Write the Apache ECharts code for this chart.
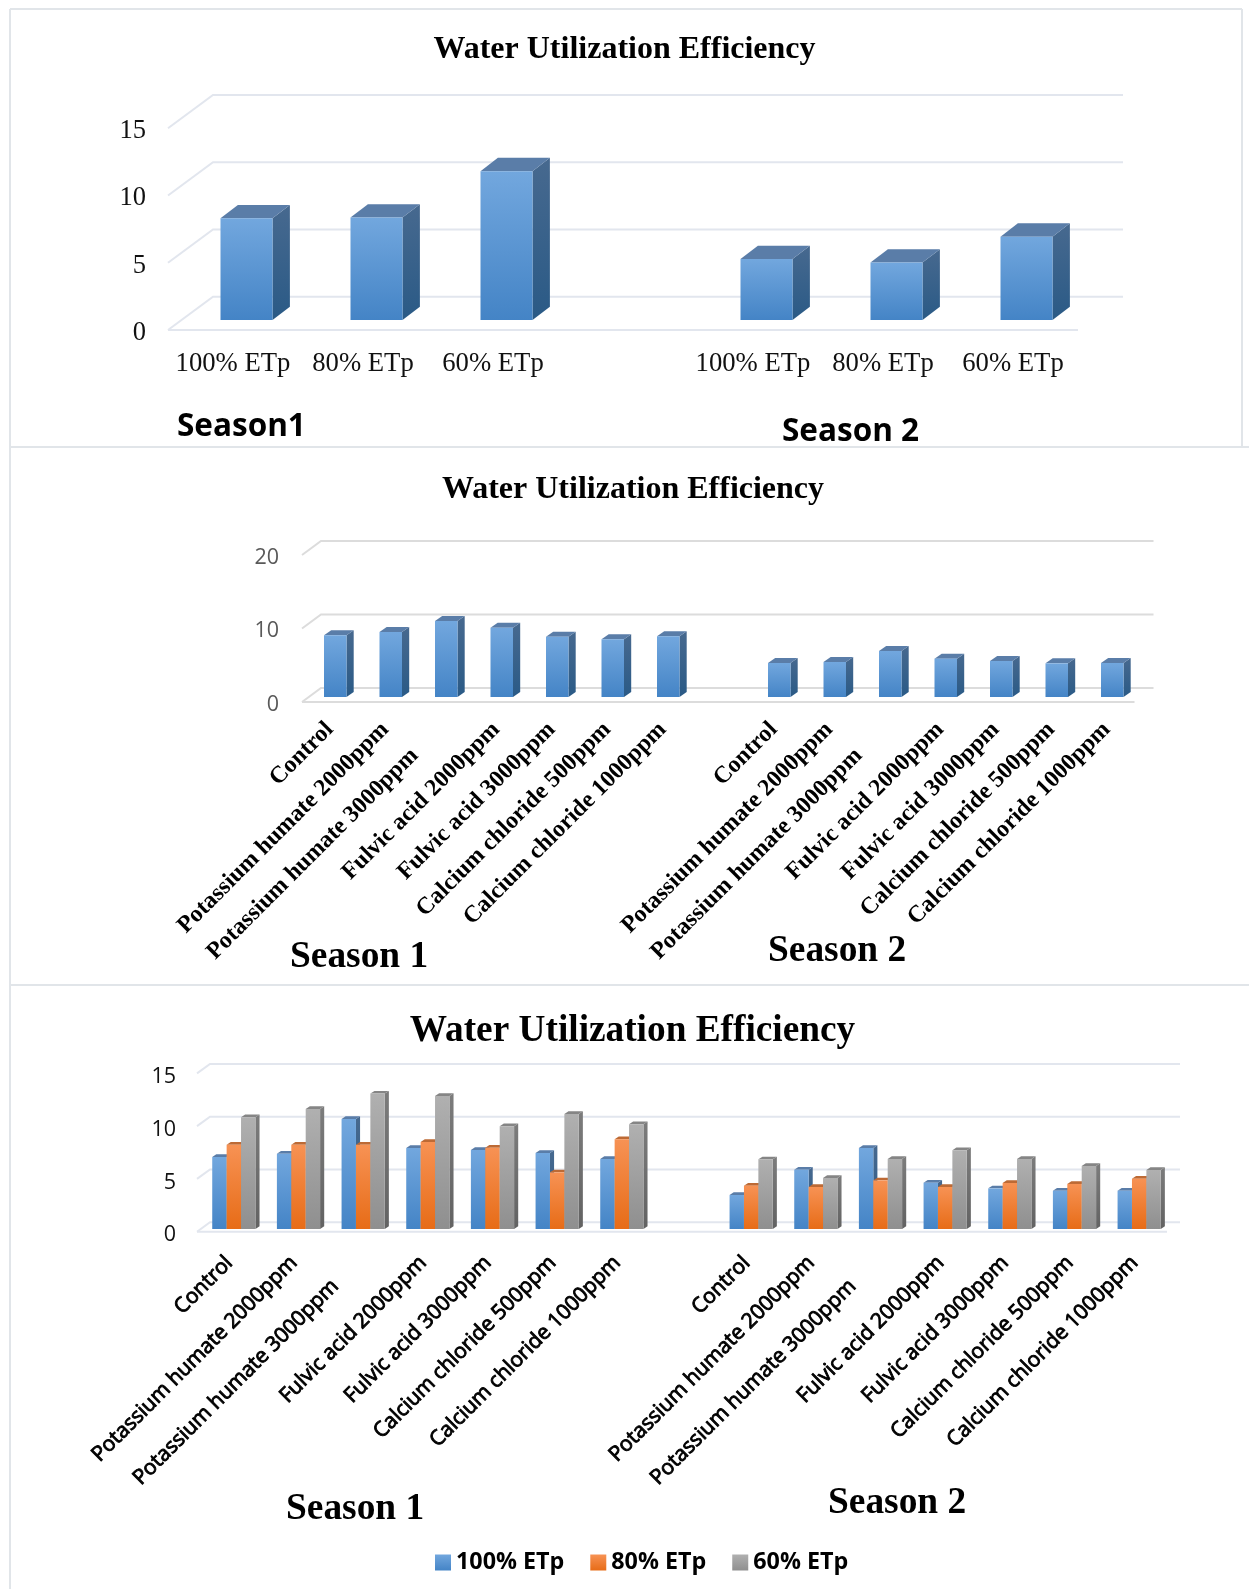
<!DOCTYPE html>
<html>
<head>
<meta charset="utf-8">
<title>Water Utilization Efficiency</title>
<style>html,body{margin:0;padding:0;background:#fff}#chart{width:1249px;height:1589px}</style>
<script src="https://cdn.jsdelivr.net/npm/echarts@6/dist/echarts.min.js"></script>
</head>
<body>
<div id="chart"></div>
<script>
// Irrigation level main effect
const irrigationLevels = ['100% ETp', '80% ETp', '60% ETp'];
const irrigationS1 = [7.57, 7.62, 11.07];
const irrigationS2 = [4.54, 4.27, 6.2];

// Foliar treatment main effect
const treatments = ['Control', 'Potassium humate 2000ppm', 'Potassium humate 3000ppm', 'Fulvic acid 2000ppm',
  'Fulvic acid 3000ppm', 'Calcium chloride 500ppm', 'Calcium chloride 1000ppm'];
const treatmentS1 = [8.39, 8.84, 10.34, 9.43, 8.2, 7.85, 8.25];
const treatmentS2 = [4.63, 4.76, 6.26, 5.22, 4.9, 4.58, 4.63];

// Irrigation x treatment interaction
const etp100S1 = [6.82, 7.14, 10.43, 7.68, 7.49, 7.2, 6.64];
const etp80S1 = [7.99, 7.99, 7.99, 8.25, 7.71, 5.37, 8.5];
const etp60S1 = [10.6, 11.37, 12.83, 12.6, 9.73, 10.9, 9.92];
const etp100S2 = [3.22, 5.62, 7.68, 4.39, 3.85, 3.63, 3.63];
const etp80S2 = [4.11, 3.98, 4.61, 3.98, 4.36, 4.27, 4.77];
const etp60S2 = [6.6, 4.83, 6.64, 7.46, 6.64, 5.97, 5.59];

const ticksA = [0, 5, 10, 15];
const ticksB = [0, 10, 20];
const ticksC = [0, 5, 10, 15];

const chartTitle = 'Water Utilization Efficiency';
const SERIF = '"Liberation Serif", serif';
const SANS = '"Open Sans", sans-serif';

const vGrad = (a, b) => ({ type: 'linear', x: 0, y: 0, x2: 0, y2: 1, colorStops: [{ offset: 0, color: a }, { offset: 1, color: b }] });
const PALETTE = {
  blue: { front: vGrad('#72a7de', '#4484c6'), side: vGrad('#47698f', '#2a5a86'), top: '#5a7da8' },
  orange: { front: vGrad('#f79254', '#e76c17'), side: vGrad('#b8683a', '#a8500f'), top: '#bd6a35' },
  gray: { front: vGrad('#b0b0b0', '#8f8f8f'), side: vGrad('#7c7c7c', '#626262'), top: '#858585' }
};

// Three-dimensional scene of each panel: the wall depth and where bars stand inside it.
const SCENE = [
  { dx: 45, dy: 33.3, line: '#e2e6ee', offX: 13.5, offY: 10, sideX: 17.4, sideY: 13.3, barWidth: 52 },
  { dx: 19, dy: 14, line: '#dcdcdc', offX: 5.5, offY: 5, sideX: 7.2, sideY: 5, barWidth: 22.5 },
  { dx: 13, dy: 9.4, line: '#e2e6ee', offX: 4.5, offY: 2.7, sideX: 4.1, sideY: 2.7, barWidth: 14.4 }
];

function wallSeries(panel, ticks) {
  const s = SCENE[panel];
  return {
    type: 'custom', xAxisIndex: panel, yAxisIndex: panel, silent: true, clip: false, z: 1,
    data: ticks.map(t => [0, t]),
    encode: { x: 0, y: 1 },
    renderItem(params, api) {
      const box = params.coordSys;
      const y = api.coord([0, api.value(1)])[1];
      const style = { stroke: s.line, lineWidth: 2, fill: null };
      const children = [{
        type: 'polyline',
        shape: { points: [[box.x, y], [box.x + s.dx, y - s.dy], [box.x + box.width + s.dx, y - s.dy]] },
        style
      }];
      if (api.value(1) === 0) {
        children.push({ type: 'line', shape: { x1: box.x, y1: y, x2: box.x + box.width, y2: y }, style });
      }
      return { type: 'group', children };
    }
  };
}

function barSeries(panel, name, values, colors, slotShift) {
  const s = SCENE[panel];
  return {
    type: 'custom', name, xAxisIndex: panel, yAxisIndex: panel, clip: false, z: 3,
    itemStyle: { color: colors.front },
    data: values.map((v, i) => [i, v]).filter(d => d[1] !== null),
    encode: { x: 0, y: 1 },
    renderItem(params, api) {
      const base = api.coord([api.value(0), 0]);
      const top = api.coord([api.value(0), api.value(1)]);
      const x0 = base[0] + s.offX + slotShift * s.barWidth - s.barWidth / 2;
      const x1 = x0 + s.barWidth;
      const y0 = base[1] - s.offY;
      const y1 = top[1] - s.offY;
      return {
        type: 'group',
        children: [
          { type: 'polygon', shape: { points: [[x1, y1], [x1 + s.sideX, y1 - s.sideY], [x1 + s.sideX, y0 - s.sideY], [x1, y0]] }, style: { fill: colors.side } },
          { type: 'polygon', shape: { points: [[x0, y1], [x0 + s.sideX, y1 - s.sideY], [x1 + s.sideX, y1 - s.sideY], [x1, y1]] }, style: { fill: colors.top } },
          { type: 'rect', shape: { x: x0, y: y1, width: s.barWidth, height: y0 - y1 }, style: { fill: colors.front } }
        ]
      };
    }
  };
}

// Season 1, an empty slot, then season 2 on one category axis.
const withGap = (a, b, blank) => a.concat([blank], b);

// Slanted category label; the third treatment sits further back along its slant.
function slantedAxis(gridIndex, labelStyle, extraPad, margin) {
  const plain = { ...labelStyle };
  const pushed = { ...labelStyle, padding: [0, extraPad, 0, 0] };
  return {
    type: 'category', gridIndex, data: withGap(treatments, treatments, ''),
    axisLine: { show: false }, axisTick: { show: false },
    axisLabel: {
      interval: 0, rotate: 45, margin, hideOverlap: false,
      rich: { plain, pushed },
      formatter: (v, i) => {
        if (!v) return '';
        return (i === 2 || i === 10) ? `{pushed|${v}}` : `{plain|${v}}`;
      }
    }
  };
}

// Tick labels hang slightly below their wall line: a short top-aligned line box sets the drop.
function valueAxis(gridIndex, max, interval, margin, drop, labelStyle) {
  return {
    type: 'value', gridIndex, min: 0, max, interval,
    axisLine: { show: false }, axisTick: { show: false }, splitLine: { show: false },
    axisLabel: { margin, verticalAlign: 'top', lineHeight: drop * 2, ...labelStyle }
  };
}

const frame = (x1, y1, x2, y2) => ({
  type: 'line', silent: true, z: 0, shape: { x1, y1, x2, y2 }, style: { stroke: '#e1e5e9', lineWidth: 2 }
});
const seasonLabel = (x, y, text, font, size) => ({
  type: 'text', x, y, silent: true, z: 5,
  style: { text, fill: '#000', font: `bold ${size}px ${font}`, textVerticalAlign: 'middle' }
});

const option = {
  backgroundColor: '#fff',
  animation: false,
  title: [
    { text: chartTitle, left: 619.5, top: 29, textAlign: 'center', textStyle: { fontFamily: SERIF, fontWeight: 'bold', fontSize: 32, color: '#000' } },
    { text: chartTitle, left: 628, top: 469, textAlign: 'center', textStyle: { fontFamily: SERIF, fontWeight: 'bold', fontSize: 32, color: '#000' } },
    { text: chartTitle, left: 627.5, top: 1008, textAlign: 'center', textStyle: { fontFamily: SERIF, fontWeight: 'bold', fontSize: 37.3, color: '#000' } }
  ],
  legend: {
    left: 430, top: 1546, itemWidth: 16, itemHeight: 16, itemGap: 26,
    icon: 'rect', data: irrigationLevels,
    textStyle: { fontFamily: SANS, fontWeight: 'bold', fontSize: 23.3, color: '#000', padding: [0, 0, 0, 0] }
  },
  grid: [
    { left: 168, top: 128.3, width: 910, height: 201.7 },
    { left: 302, top: 555, width: 832.5, height: 147 },
    { left: 197, top: 1073.4, width: 970, height: 158.3 }
  ],
  xAxis: [
    {
      type: 'category', gridIndex: 0, data: withGap(irrigationLevels, irrigationLevels, ''),
      axisLine: { show: false }, axisTick: { show: false },
      axisLabel: { interval: 0, margin: 20, fontFamily: SERIF, fontSize: 26.7, color: '#111' }
    },
    slantedAxis(1, { fontFamily: SERIF, fontWeight: 'bold', fontSize: 23.9, color: '#000' }, 37, 24),
    slantedAxis(2, { fontFamily: SANS, fontSize: 20.9, color: '#000', textBorderColor: '#000', textBorderWidth: 0.9 }, 33, 28)
  ],
  yAxis: [
    valueAxis(0, 15, 5, 22, 3, { fontFamily: SERIF, fontSize: 26.5, color: '#111' }),
    valueAxis(1, 20, 10, 23, 2.5, { fontFamily: SANS, fontSize: 21.5, color: '#595959' }),
    valueAxis(2, 15, 5, 21, 3.5, { fontFamily: SANS, fontSize: 21.5, color: '#111' })
  ],
  series: [
    wallSeries(0, ticksA),
    wallSeries(1, ticksB),
    wallSeries(2, ticksC),
    barSeries(0, 'Irrigation level', withGap(irrigationS1, irrigationS2, null), PALETTE.blue, 0),
    barSeries(1, 'Treatment', withGap(treatmentS1, treatmentS2, null), PALETTE.blue, 0),
    barSeries(2, irrigationLevels[0], withGap(etp100S1, etp100S2, null), PALETTE.blue, -1),
    barSeries(2, irrigationLevels[1], withGap(etp80S1, etp80S2, null), PALETTE.orange, 0),
    barSeries(2, irrigationLevels[2], withGap(etp60S1, etp60S2, null), PALETTE.gray, 1)
  ],
  graphic: [
    frame(10, 9, 1242, 9),
    frame(10, 9, 10, 1589),
    frame(1242, 9, 1242, 447),
    frame(10, 447, 1249, 447),
    frame(10, 985, 1249, 985),
    seasonLabel(177, 427, 'Season1', SANS, 31.5),
    seasonLabel(782, 432, 'Season 2', SANS, 31.5),
    seasonLabel(290, 957, 'Season 1', SERIF, 37.4),
    seasonLabel(768, 951, 'Season 2', SERIF, 37.4),
    seasonLabel(286, 1509, 'Season 1', SERIF, 37.4),
    seasonLabel(828, 1503, 'Season 2', SERIF, 37.4)
  ]
};

const chart = echarts.init(document.getElementById('chart'), null, { renderer: 'canvas' });
chart.setOption(option);
</script>
</body>
</html>
